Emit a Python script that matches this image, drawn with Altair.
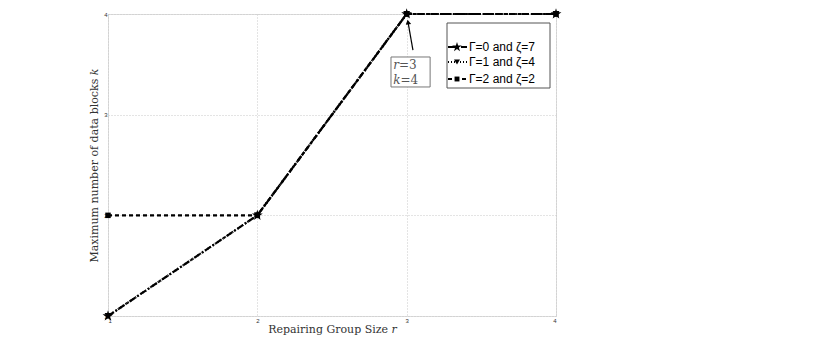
import altair as alt
import pandas as pd

# ---- data ----
r_vals = [1, 2, 3, 4]
k_g0 = [1, 2, 4, 4]   # Gamma=0, zeta=7
k_g1 = [1, 2, 4, 4]   # Gamma=1, zeta=4
k_g2 = [2, 2, 4, 4]   # Gamma=2, zeta=2
series_names = ["Γ=0 and ζ=7", "Γ=1 and ζ=4", "Γ=2 and ζ=2"]
x_ticks = [1, 2, 3, 4]
y_ticks = [1, 2, 3, 4]

STAR = "M0,-1L0.2245,-0.309L0.951,-0.309L0.363,0.118L0.588,0.809L0,0.382L-0.588,0.809L-0.363,0.118L-0.951,-0.309L-0.2245,-0.309Z"

styles = {
    series_names[0]: dict(dash=[7, 2, 2, 2], shape=STAR, size=130),
    series_names[1]: dict(dash=[1, 2], shape="triangle-down", size=45),
    series_names[2]: dict(dash=[4, 3], shape="square", size=30),
}
vals = {series_names[0]: k_g0, series_names[1]: k_g1, series_names[2]: k_g2}

W, H = 448, 302
xs = alt.Scale(domain=[1, 4], nice=False, zero=False)
ys = alt.Scale(domain=[1, 4], nice=False, zero=False)

X = alt.X("r:Q", scale=xs,
          axis=alt.Axis(values=x_ticks, format="d", title="Repairing Group Size 𝑟",
                        grid=True, gridDash=[1, 2], gridColor="#c8c8c8",
                        domain=False, ticks=False, labelFontSize=6, labelPadding=1,
                        labelColor="#333", titleFont="DejaVu Serif", titleFontSize=11,
                        titleFontWeight="normal", titleColor="#333", titlePadding=0))
Y = alt.Y("k:Q", scale=ys,
          axis=alt.Axis(values=y_ticks, format="d", title="Maximum number of data blocks 𝑘",
                        grid=True, gridDash=[1, 2], gridColor="#c8c8c8",
                        domain=False, ticks=False, labelFontSize=6, labelPadding=1,
                        labelColor="#333", titleFont="DejaVu Serif", titleFontSize=11,
                        titleFontWeight="normal", titleColor="#333", titlePadding=4))

layers = []
for name in [series_names[2], series_names[1], series_names[0]]:
    df = pd.DataFrame({"r": r_vals, "k": vals[name]})
    st = styles[name]
    layers.append(alt.Chart(df).mark_line(color="black", strokeWidth=2.2,
                                          strokeDash=st["dash"]).encode(x=X, y=Y))
    layers.append(alt.Chart(df).mark_point(shape=st["shape"], filled=True, color="black",
                                           size=st["size"], opacity=1).encode(x="r:Q", y="k:Q"))

# annotation
arrow_df = pd.DataFrame({"r": [3.042], "k": [3.642], "r2": [3.009], "k2": [3.92]})
layers.append(alt.Chart(arrow_df).mark_rule(color="black", strokeWidth=1.2).encode(
    x="r:Q", y="k:Q", x2="r2:Q", y2="k2:Q"))
layers.append(alt.Chart(arrow_df).mark_point(shape="triangle-up", filled=True, color="black",
                                             size=30, angle=350, opacity=1).encode(
    x="r2:Q", y="k2:Q"))
box_df = pd.DataFrame({"r": [2.895], "r2": [3.157], "k": [3.275], "k2": [3.573]})
layers.append(alt.Chart(box_df).mark_rect(fill="white", stroke="#777", strokeWidth=1).encode(
    x="r:Q", x2="r2:Q", y="k:Q", y2="k2:Q"))
ann_df = pd.DataFrame({"r": [2.91, 2.91], "k": [3.49, 3.345], "t": ["𝑟=3", "𝑘=4"]})
layers.append(alt.Chart(ann_df).mark_text(align="left", baseline="middle", font="DejaVu Serif",
                                          fontSize=12, color="#555").encode(
    x="r:Q", y="k:Q", text="t:N"))

# legend (pixel positions inside the plot)
leg_box = pd.DataFrame({"x": [339], "x2": [442], "y": [9], "y2": [74]})
layers.append(alt.Chart(leg_box).mark_rect(fill="white", stroke="#555", strokeWidth=1).encode(
    x=alt.X("x:Q", scale=None), x2="x2:Q", y=alt.Y("y:Q", scale=None), y2="y2:Q"))
leg_y = [33, 48, 65]
for i, name in enumerate(series_names):
    st = styles[name]
    ldf = pd.DataFrame({"x": [340], "x2": [359], "y": [leg_y[i]]})
    layers.append(alt.Chart(ldf).mark_rule(color="black", strokeWidth=2, strokeDash=st["dash"]).encode(
        x=alt.X("x:Q", scale=None), x2="x2:Q", y=alt.Y("y:Q", scale=None)))
    pdf = pd.DataFrame({"x": [349], "y": [leg_y[i]], "t": [name]})
    layers.append(alt.Chart(pdf).mark_point(shape=st["shape"], filled=True, color="black",
                                            size=st["size"] * 0.8, opacity=1).encode(
        x=alt.X("x:Q", scale=None), y=alt.Y("y:Q", scale=None)))
    tdf = pd.DataFrame({"x": [361], "y": [leg_y[i]], "t": [name]})
    layers.append(alt.Chart(tdf).mark_text(align="left", baseline="middle", font="Liberation Sans",
                                           fontSize=12, color="black").encode(
        x=alt.X("x:Q", scale=None), y=alt.Y("y:Q", scale=None), text="t:N"))

chart = alt.layer(*layers).properties(
    width=W, height=H,
    autosize=alt.AutoSizeParams(type="none"),
    padding={"left": 100, "top": 6, "right": 266, "bottom": 20},
).configure_view(stroke="#444", strokeWidth=1).configure(background="white")

chart.save("out.html", embed_options={"renderer": "svg", "actions": False})
